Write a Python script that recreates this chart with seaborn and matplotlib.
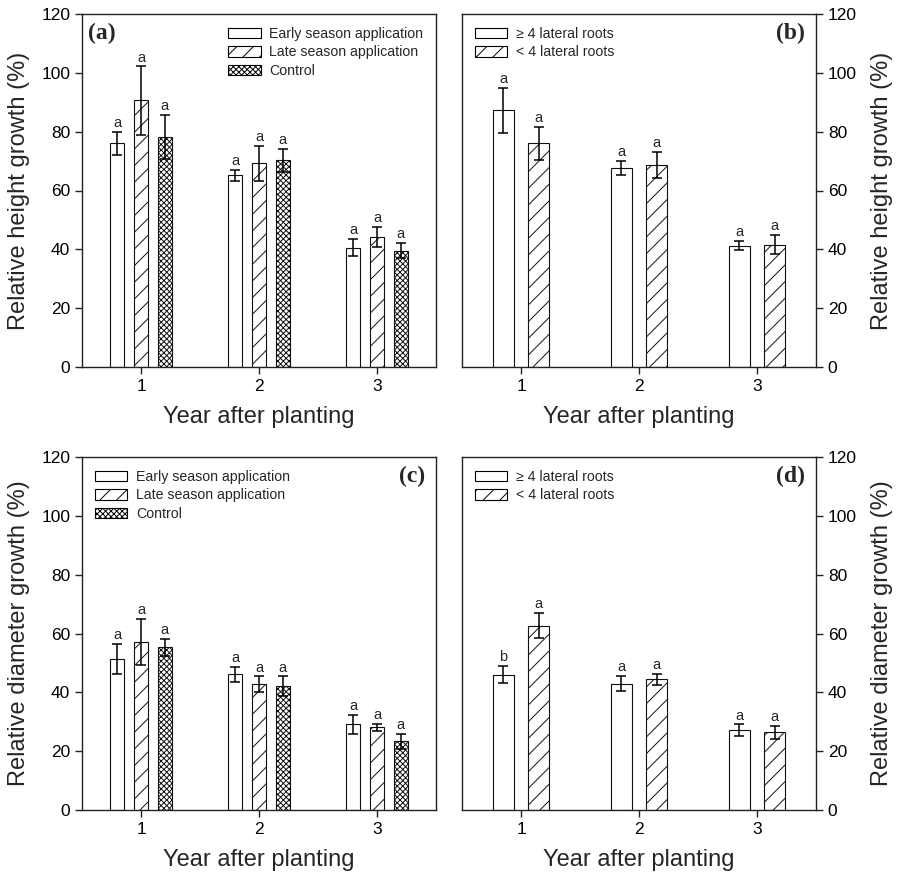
import matplotlib
matplotlib.use("Agg")
import matplotlib.pyplot as plt
from matplotlib.patches import Patch
import numpy as np
import pandas as pd
import seaborn as sns

# ---------------- data ----------------
years = ["1", "2", "3"]
treat_levels = ["Early season application", "Late season application", "Control"]
root_levels = ["\u2265 4 lateral roots", "< 4 lateral roots"]

height_early = [76.0, 65.1, 40.6]
height_early_err = [4.0, 2.0, 3.0]
height_late = [90.6, 69.2, 44.2]
height_late_err = [11.6, 6.0, 3.4]
height_control = [78.2, 70.2, 39.6]
height_control_err = [7.6, 4.0, 2.7]

height_ge4 = [87.2, 67.7, 41.3]
height_ge4_err = [7.7, 2.4, 1.5]
height_lt4 = [76.0, 68.7, 41.6]
height_lt4_err = [5.5, 4.3, 3.2]

diam_early = [51.3, 46.1, 29.1]
diam_early_err = [5.1, 2.6, 3.2]
diam_late = [57.1, 42.8, 28.1]
diam_late_err = [7.8, 2.6, 1.3]
diam_control = [55.3, 42.0, 23.3]
diam_control_err = [3.0, 3.4, 2.5]

diam_ge4 = [46.0, 43.0, 27.1]
diam_ge4_err = [2.9, 2.6, 2.0]
diam_lt4 = [62.7, 44.4, 26.4]
diam_lt4_err = [4.2, 2.0, 2.3]

letters_a = [["a", "a", "a"], ["a", "a", "a"], ["a", "a", "a"]]
letters_b = [["a", "a", "a"], ["a", "a", "a"]]
letters_c = [["a", "a", "a"], ["a", "a", "a"], ["a", "a", "a"]]
letters_d = [["b", "a", "a"], ["a", "a", "a"]]

# ---------------- style ----------------
sns.set_theme(style="ticks")
plt.rcParams["font.family"] = ["Liberation Sans", "DejaVu Sans"]
plt.rcParams["hatch.color"] = "black"
plt.rcParams["hatch.linewidth"] = 0.7

treat_hatches = ["", "//", "xxxxxx"]
root_hatches = ["", "//"]

fig = plt.figure(figsize=(9, 8.73), dpi=100)
W, H = 900, 873


def make_ax(l, t, r, b):
    return fig.add_axes([l / W, 1 - b / H, (r - l) / W, (b - t) / H])


ax_a = make_ax(82, 14, 436, 367)
ax_b = make_ax(462, 14, 816, 367)
ax_c = make_ax(82, 457, 436, 810)
ax_d = make_ax(462, 457, 816, 810)


def draw(ax, levels, values, errors, letters, hatches):
    rows = []
    for lev, vals in zip(levels, values):
        for yr, v in zip(years, vals):
            rows.append({"year": yr, "group": lev, "value": v})
    df = pd.DataFrame(rows)
    sns.barplot(data=df, x="year", y="value", hue="group", hue_order=levels,
                order=years, palette=["white"] * len(levels), edgecolor="#111111",
                linewidth=0.8, width=0.6, gap=0.4, errorbar=None, legend=False,
                saturation=1, ax=ax)
    for container, h, errs, labs in zip(ax.containers, hatches, errors, letters):
        for bar, e, lab in zip(container, errs, labs):
            bar.set_hatch(h)
            cx = bar.get_x() + bar.get_width() / 2
            top = bar.get_height()
            ax.errorbar(cx, top, yerr=e, color="black", capsize=3.5,
                        elinewidth=1.1, capthick=1.1)
            ax.text(cx, top + e + 0.6, lab, ha="center", va="bottom",
                    fontsize=10.5)
    ax.set_ylim(0, 120)
    ax.set_xlim(-0.5, 2.5)
    ax.set_yticks(np.arange(0, 121, 20))
    ax.set_xlabel("Year after planting", fontsize=17, labelpad=9)
    for s in ax.spines.values():
        s.set_visible(True)
        s.set_color("#222222")
        s.set_linewidth(1.0)
    ax.tick_params(axis="both", direction="out", length=5, width=1,
                   labelsize=12.5, colors="#222222", labelcolor="black")
    handles = [Patch(facecolor="white", edgecolor="black", hatch=h, linewidth=0.8)
               for h in hatches]
    return handles


h_a = draw(ax_a, treat_levels, [height_early, height_late, height_control],
           [height_early_err, height_late_err, height_control_err], letters_a,
           treat_hatches)
h_b = draw(ax_b, root_levels, [height_ge4, height_lt4],
           [height_ge4_err, height_lt4_err], letters_b, root_hatches)
h_c = draw(ax_c, treat_levels, [diam_early, diam_late, diam_control],
           [diam_early_err, diam_late_err, diam_control_err], letters_c,
           treat_hatches)
h_d = draw(ax_d, root_levels, [diam_ge4, diam_lt4],
           [diam_ge4_err, diam_lt4_err], letters_d, root_hatches)

ax_a.set_ylabel("Relative height growth (%)", fontsize=17, labelpad=8)
ax_c.set_ylabel("Relative diameter growth (%)", fontsize=17, labelpad=8)
for ax, lab in [(ax_b, "Relative height growth (%)"),
                (ax_d, "Relative diameter growth (%)")]:
    ax.yaxis.tick_right()
    ax.yaxis.set_label_position("right")
    ax.set_ylabel(lab, fontsize=17, labelpad=10)

leg_kw = dict(frameon=False, fontsize=10.2, handlelength=2.3, handleheight=0.75,
              labelspacing=0.33, handletextpad=0.6, borderaxespad=0.5)
ax_a.legend(h_a, treat_levels, loc="upper right", **leg_kw)
ax_b.legend(h_b, root_levels, loc="upper left", **leg_kw)
ax_c.legend(h_c, treat_levels, loc="upper left", **leg_kw)
ax_d.legend(h_d, root_levels, loc="upper left", **leg_kw)

serif = ["Liberation Serif", "DejaVu Serif"]
ax_a.text(0.017, 0.946, "(a)", transform=ax_a.transAxes, ha="left", va="center",
          fontsize=17, fontweight="bold", family=serif)
for ax, lab in [(ax_b, "(b)"), (ax_c, "(c)"), (ax_d, "(d)")]:
    ax.text(0.968, 0.946, lab, transform=ax.transAxes, ha="right", va="center",
            fontsize=17, fontweight="bold", family=serif)

fig.savefig("out.png", dpi=100)
